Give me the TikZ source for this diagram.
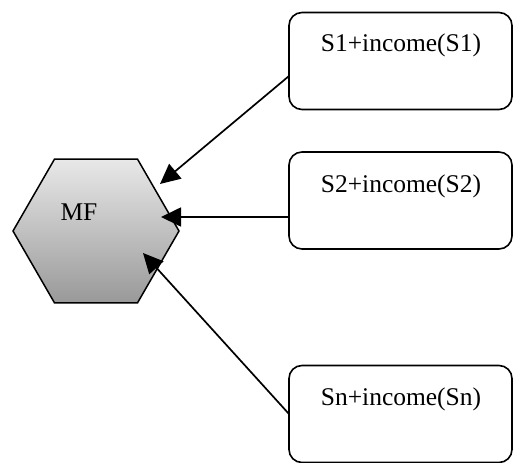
\documentclass[tikz,border=0pt]{standalone}
\usepackage{fontspec}
\setmainfont{Liberation Serif}
\usetikzlibrary{shapes.geometric,arrows.meta,calc}
\begin{document}
\begin{tikzpicture}[x=1pt,y=-1pt,
  srcbox/.style={draw, line width=1.6pt, rounded corners=13pt, minimum width=223pt, minimum height=97pt, inner sep=0pt},
  boxtext/.style={font=\fontsize{25.5}{30}\selectfont, inner sep=0pt},
  link/.style={line width=1.7pt, -{Triangle[length=20pt,width=19pt]}}]
\useasboundingbox (0,0) rectangle (514,463);
% central hexagon
\node[regular polygon, regular polygon sides=6, minimum size=166pt, inner sep=0pt,
      draw, line width=1.5pt, top color=gray!18, bottom color=gray!80] (mf) at (96,231) {};
\node[boxtext] (mftext) at (79,212) {MF};
% source boxes
\node[srcbox] (s1) at (400.5,61) {};
\node[boxtext] (s1text) at (401,45) {S1+income(S1)};
\node[srcbox] (s2) at (400.5,200.5) {};
\node[boxtext] (s2text) at (401,186) {S2+income(S2)};
\node[srcbox] (s3) at (400.5,414) {};
\node[boxtext] (s3text) at (401,399) {Sn+income(Sn)};
% arrow ends
\coordinate (e1) at (289,76);
\coordinate (e2) at (289,217);
\coordinate (e3) at (289,414);
\coordinate (t1) at (160,184);
\coordinate (t2) at (161,217);
\coordinate (t3) at (143,253);
\draw[link] (e1) -- (t1);
\draw[link] (e2) -- (t2);
\draw[link] (e3) -- (t3);
\end{tikzpicture}
\end{document}
